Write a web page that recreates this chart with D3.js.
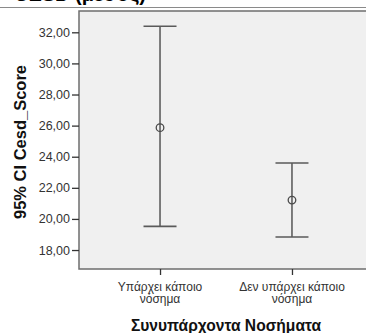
<!DOCTYPE html>
<html>
<head>
<meta charset="utf-8">
<script src="https://cdn.jsdelivr.net/npm/d3@7"></script>
<style>
  html, body { margin: 0; padding: 0; background: #fff; }
  svg { display: block; }
</style>
</head>
<body>
<svg id="chart" width="366" height="333"></svg>
<script>
// Group labels (each wraps onto two lines)
const categories = ["Υπάρχει κάποιο νόσημα", "Δεν υπάρχει κάποιο νόσημα"];
const categoryLines = [["Υπάρχει κάποιο", "νόσημα"], ["Δεν υπάρχει κάποιο", "νόσημα"]];
// Mean and 95% confidence interval of Cesd_Score per group
const means = [25.87, 21.21];
const lowerCI = [19.52, 18.84];
const upperCI = [32.39, 23.60];
// Value axis ticks
const yTicks = [18, 20, 22, 24, 26, 28, 30, 32];

const data = categories.map((c, i) => ({
  cat: c, lines: categoryLines[i], mean: means[i], lo: lowerCI[i], hi: upperCI[i]
}));

const FONT = "Liberation Sans, Arial, sans-serif";
const svg = d3.select("#chart");
const plot = { left: 79, top: 11, right: 373, bottom: 269 };

const fmt = d3.formatLocale({ decimal: ",", thousands: ".", grouping: [3], currency: ["", "€"] }).format(".2f");

const x = d3.scalePoint()
  .domain(categories)
  .range([plot.left, plot.right])
  .padding(0.614);

const y = d3.scaleLinear()
  .domain([16.78, 33.37])
  .range([plot.bottom, plot.top]);

// Title strip at the very top (mostly out of view)
svg.append("text")
  .attr("x", 14).attr("y", 1)
  .attr("font-family", FONT)
  .attr("font-weight", "bold")
  .attr("font-size", 20)
  .attr("fill", "#000")
  .text("CESD (μέσος)");
svg.append("line")
  .attr("x1", 0).attr("x2", 366).attr("y1", 7.5).attr("y2", 7.5)
  .attr("stroke", "#8a8a8a").attr("stroke-width", 1);

// Plot background
svg.append("rect")
  .attr("x", plot.left).attr("y", plot.top)
  .attr("width", plot.right - plot.left).attr("height", plot.bottom - plot.top)
  .attr("fill", "#f0f0f0")
  .attr("stroke", "#6e6e6e").attr("stroke-width", 1.5);

// Y axis
const yAxis = svg.append("g")
  .attr("transform", `translate(${plot.left},0)`)
  .call(d3.axisLeft(y).tickValues(yTicks).tickFormat(fmt).tickSize(7).tickPadding(2));
yAxis.select(".domain").remove();
yAxis.selectAll(".tick line").attr("stroke", "#333").attr("stroke-width", 1.3);
yAxis.selectAll(".tick text")
  .attr("font-family", FONT)
  .attr("font-size", 12.5)
  .attr("fill", "#333");

// X axis ticks
const xAxis = svg.append("g")
  .attr("transform", `translate(0,${plot.bottom})`)
  .call(d3.axisBottom(x).tickSize(6).tickFormat(""));
xAxis.select(".domain").remove();
xAxis.selectAll(".tick line").attr("stroke", "#333").attr("stroke-width", 1.3);

// Two-line category labels
const labels = svg.append("g");
data.forEach(d => {
  d.lines.forEach((ln, j) => {
    labels.append("text")
      .attr("x", x(d.cat)).attr("y", 290.5 + j * 12.5)
      .attr("text-anchor", "middle")
      .attr("font-family", FONT)
      .attr("font-size", 12)
      .attr("fill", "#333")
      .text(ln);
  });
});

// Axis titles
svg.append("text")
  .attr("x", (x(categories[0]) + x(categories[1])) / 2).attr("y", 331)
  .attr("text-anchor", "middle")
  .attr("font-family", FONT)
  .attr("font-weight", "bold")
  .attr("font-size", 15.6)
  .attr("fill", "#111")
  .text("Συνυπάρχοντα Νοσήματα");

svg.append("text")
  .attr("transform", `translate(25.5,${(plot.top + plot.bottom) / 2 + 2}) rotate(-90)`)
  .attr("text-anchor", "middle")
  .attr("font-family", FONT)
  .attr("font-weight", "bold")
  .attr("font-size", 16.5)
  .attr("fill", "#111")
  .text("95% CI Cesd_Score");

// Error bars
const capHalf = 16.5;
const bars = svg.append("g").selectAll("g").data(data).join("g");
bars.append("line")
  .attr("x1", d => x(d.cat)).attr("x2", d => x(d.cat))
  .attr("y1", d => y(d.hi)).attr("y2", d => y(d.lo))
  .attr("stroke", "#4a4a4a").attr("stroke-width", 1.4);
bars.append("line")
  .attr("x1", d => x(d.cat) - capHalf).attr("x2", d => x(d.cat) + capHalf)
  .attr("y1", d => y(d.hi)).attr("y2", d => y(d.hi))
  .attr("stroke", "#5a5a5a").attr("stroke-width", 1.6);
bars.append("line")
  .attr("x1", d => x(d.cat) - capHalf).attr("x2", d => x(d.cat) + capHalf)
  .attr("y1", d => y(d.lo)).attr("y2", d => y(d.lo))
  .attr("stroke", "#5a5a5a").attr("stroke-width", 1.6);
bars.append("circle")
  .attr("cx", d => x(d.cat)).attr("cy", d => y(d.mean))
  .attr("r", 3.8)
  .attr("fill", "none")
  .attr("stroke", "#4a4a4a").attr("stroke-width", 1.3);
</script>
</body>
</html>
